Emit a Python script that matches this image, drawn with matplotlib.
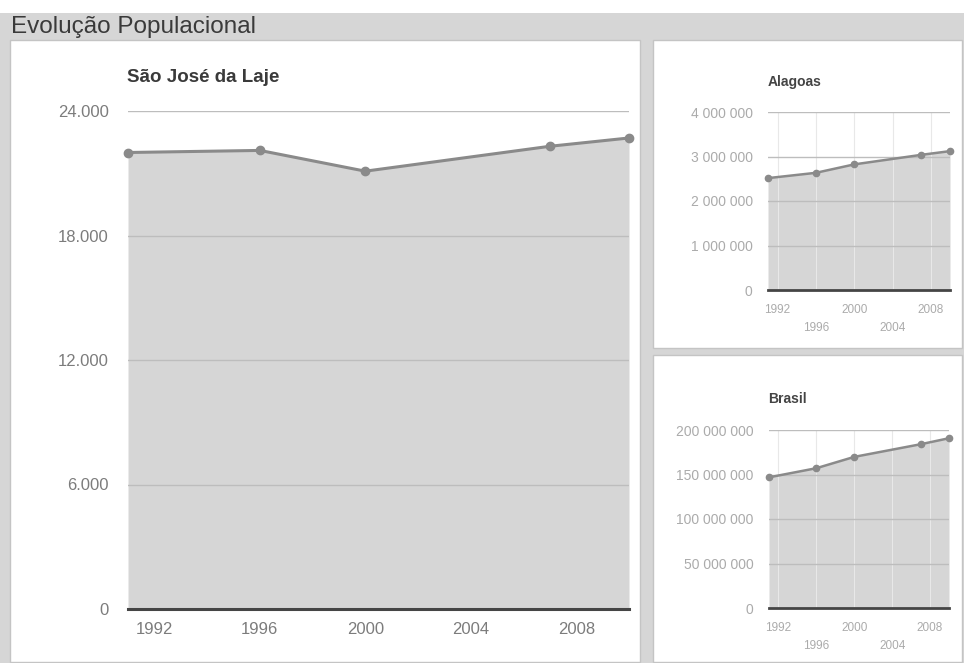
import matplotlib
matplotlib.use("Agg")
import matplotlib.pyplot as plt
from matplotlib.patches import Rectangle
from matplotlib.ticker import FuncFormatter, FixedLocator

plt.rcParams['font.family'] = ['Liberation Sans', 'DejaVu Sans']

# Census / population count years
years = [1991, 1996, 2000, 2007, 2010]

# Resident population
pop_sao_jose = [22000, 22100, 21100, 22300, 22700]
pop_alagoas = [2514100, 2633251, 2822621, 3037103, 3120494]
pop_brasil = [146825475, 157070163, 169799170, 183987291, 190755799]

main_title = "Evolução Populacional"
main_name = "São José da Laje"
side_names = ["Alagoas", "Brasil"]

main_yticks = [0, 6000, 12000, 18000, 24000]
alagoas_yticks = [0, 1000000, 2000000, 3000000, 4000000]
brasil_yticks = [0, 50000000, 100000000, 150000000, 200000000]
main_xticks = [1992, 1996, 2000, 2004, 2008]
side_xticks_top = [1992, 2000, 2008]
side_xticks_low = [1996, 2004]

W, H = 964, 663
fig = plt.figure(figsize=(W / 100, H / 100), dpi=100)
fig.patch.set_facecolor('white')


def box(x0, y0, x1, y1):
    """Pixel box (top-left origin) -> figure-fraction rect."""
    return [x0 / W, 1 - y1 / H, (x1 - x0) / W, (y1 - y0) / H]


def rect(x0, y0, x1, y1, z, **kw):
    l, b, w, h = box(x0, y0, x1, y1)
    fig.patches.append(Rectangle((l, b), w, h, transform=fig.transFigure,
                                 zorder=z, **kw))


# page background: gray header band and gutters, white panels
rect(0, 13, W, H, -3, facecolor='#d6d6d6', edgecolor='none')
rect(10, 40, 640, 662, -2, facecolor='white', edgecolor='#c4c4c4', lw=1)
rect(653, 40, 962, 348, -2, facecolor='white', edgecolor='#c4c4c4', lw=1)
rect(653, 355, 962, 662, -2, facecolor='white', edgecolor='#c4c4c4', lw=1)

fig.text(11 / W, 1 - 27 / H, main_title, fontsize=17.5, color='#3a3a3a',
         ha='left', va='center')

FILL = '#d6d6d6'
LINE = '#8a8a8a'


def dot_fmt(v, _):
    return f"{int(round(v)):,}".replace(",", ".")


def space_fmt(v, _):
    return f"{int(round(v)):,}".replace(",", " ")


def draw(ax, values, yticks, fmt, big):
    ax.fill_between(years, 0, values, color=FILL, zorder=1, lw=0)
    ax.plot(years, values, color=LINE, lw=2.2 if big else 1.8, zorder=3,
            marker='o', ms=6 if big else 4.5, mfc=LINE, mec=LINE,
            clip_on=False)
    ax.set_xlim(years[0], years[-1])
    ax.set_ylim(yticks[0], yticks[-1])
    ax.set_yticks(yticks)
    ax.yaxis.set_major_formatter(FuncFormatter(fmt))
    ax.set_axisbelow(False)
    ax.grid(axis='y', color='#bdbdbd', lw=1)
    for s in ('top', 'right', 'left'):
        ax.spines[s].set_visible(False)
    ax.spines['bottom'].set_color('#454545')
    ax.spines['bottom'].set_linewidth(2.2 if big else 2.0)
    ax.spines['bottom'].set_zorder(4)
    ax.tick_params(axis='both', which='both', length=0)
    ax.patch.set_alpha(0)


# main chart
ax_main = fig.add_axes(box(128, 111, 629, 609))
draw(ax_main, pop_sao_jose, main_yticks, dot_fmt, True)
ax_main.set_xticks(main_xticks)
ax_main.tick_params(axis='y', labelsize=12, labelcolor='#7c7c7c', pad=14)
ax_main.tick_params(axis='x', labelsize=12, labelcolor='#7c7c7c', pad=9)
fig.text(127 / W, 1 - 77 / H, main_name, fontsize=13.5, fontweight='bold',
         color='#3a3a3a', ha='left', va='center')

# side charts
side = [
    (box(768, 112, 950, 290), pop_alagoas, alagoas_yticks, 82),
    (box(769, 430, 949, 608), pop_brasil, brasil_yticks, 399),
]
for (r, vals, yt, ty), name in zip(side, side_names):
    ax = fig.add_axes(r)
    draw(ax, vals, yt, space_fmt, False)
    ax.xaxis.set_major_locator(FixedLocator(side_xticks_top))
    ax.xaxis.set_minor_locator(FixedLocator(side_xticks_low))
    ax.xaxis.set_minor_formatter(FuncFormatter(lambda v, _: f"{int(v)}"))
    ax.grid(axis='x', which='both', color='#e8e8e8', lw=0.8)
    ax.tick_params(axis='y', labelsize=10, labelcolor='#ababab', pad=11)
    ax.tick_params(axis='x', which='major', labelsize=8.5, labelcolor='#ababab', pad=10)
    ax.tick_params(axis='x', which='minor', labelsize=8.5, labelcolor='#ababab', pad=23)
    fig.text(768 / W, 1 - ty / H, name, fontsize=10, fontweight='bold',
             color='#444444', ha='left', va='center')

fig.savefig('out.png', dpi=100, facecolor=fig.get_facecolor())
